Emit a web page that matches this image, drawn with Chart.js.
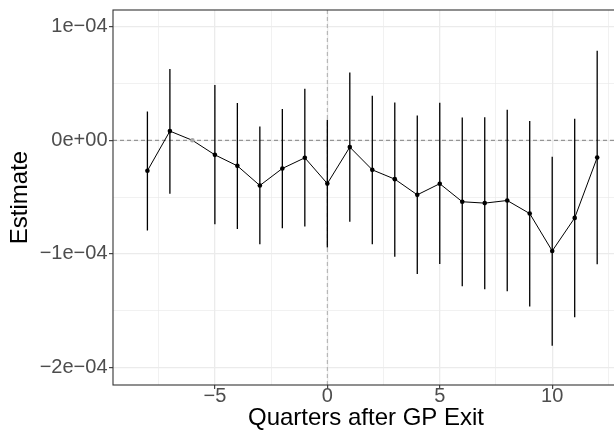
<!DOCTYPE html>
<html><head><meta charset="utf-8">
<script src="https://cdn.jsdelivr.net/npm/chart.js@4/dist/chart.umd.min.js"></script>
<style>
html,body{margin:0;padding:0;overflow:hidden;background:#fff;width:614px;height:436px}
#wrap{position:absolute;left:0;top:0;width:626px;height:436px}
canvas{display:block}
</style></head><body>
<div id="wrap"><canvas id="c" width="626" height="436"></canvas></div>
<script>
// ---- data ----
const quarters = [-8,-7,-6,-5,-4,-3,-2,-1,0,1,2,3,4,5,6,7,8,9,10,11,12];
const estimates = [-2.68e-5, 0.81e-5, 0, -1.28e-5, -2.25e-5, -3.98e-5, -2.48e-5, -1.54e-5, -3.81e-5, -0.60e-5,
                   -2.60e-5, -3.42e-5, -4.80e-5, -3.82e-5, -5.41e-5, -5.53e-5, -5.30e-5, -6.45e-5, -9.74e-5, -6.83e-5, -1.52e-5];
const ciLower = [-7.93e-5, -4.71e-5, null, -7.38e-5, -7.80e-5, -9.15e-5, -7.74e-5, -7.59e-5, -9.44e-5, -7.18e-5,
                 -9.15e-5, -10.24e-5, -11.76e-5, -10.88e-5, -12.85e-5, -13.11e-5, -13.29e-5, -14.64e-5, -18.08e-5, -15.58e-5, -10.91e-5];
const ciUpper = [2.53e-5, 6.28e-5, null, 4.86e-5, 3.28e-5, 1.22e-5, 2.75e-5, 4.54e-5, 1.81e-5, 5.97e-5,
                 3.92e-5, 3.33e-5, 2.18e-5, 3.30e-5, 2.00e-5, 2.04e-5, 2.68e-5, 1.69e-5, -1.45e-5, 1.89e-5, 7.89e-5];
const referenceQuarter = -6;
const xTickValues = [-5, 0, 5, 10];
const xTickLabels = ['\u22125', '0', '5', '10'];
const xMinorValues = [-7.5, -2.5, 2.5, 7.5, 12.5];
const yTickValues = [1e-4, 0, -1e-4, -2e-4];
const yTickLabels = ['1e\u221204', '0e+00', '\u22121e\u221204', '\u22122e\u221204'];
const yMinorValues = [0.5e-4, -0.5e-4, -1.5e-4];
const xLimits = [-9.53, 12.97];
const yLimits = [-2.154e-4, 1.147e-4];
const xTitle = 'Quarters after GP Exit';
const yTitle = 'Estimate';

// ---- build datasets ----
const pointData = quarters.map((q, i) => ({x: q, y: estimates[i]}));
const barData = [];
quarters.forEach((q, i) => {
  if (ciLower[i] === null) return;
  barData.push({x: q, y: ciLower[i]}, {x: q, y: ciUpper[i]}, {x: q, y: null});
});
const hLine = [{x: xLimits[0], y: 0}, {x: xLimits[1], y: 0}];
const vLine = [{x: 0, y: yLimits[0]}, {x: 0, y: yLimits[1]}];

const FONT = "'Liberation Sans', Arial, sans-serif";

const borderPlugin = {
  id: 'panelBorder',
  afterDatasetsDraw(chart) {
    const {ctx, chartArea: a} = chart;
    ctx.save();
    ctx.strokeStyle = '#333333';
    ctx.lineWidth = 1.1;
    ctx.strokeRect(a.left, a.top, a.right - a.left, a.bottom - a.top);
    ctx.restore();
  }
};

function gridOpts(majors) {
  return {
    color: '#EBEBEB',
    lineWidth: ctx => (ctx.tick && majors.includes(ctx.tick.value)) ? 1.3 : 0.7,
    tickColor: ctx => (ctx.tick && majors.includes(ctx.tick.value)) ? '#333333' : 'rgba(0,0,0,0)',
    tickLength: 4,
    tickWidth: 1.1,
    drawTicks: true
  };
}

new Chart(document.getElementById('c'), {
  type: 'line',
  data: {
    datasets: [
      {data: pointData, borderColor: '#000', borderWidth: 1, pointRadius: 2.3, pointBorderWidth: 0,
       pointBackgroundColor: pointData.map(p => p.x === referenceQuarter ? '#A6A6A6' : '#000'), fill: false, tension: 0},
      {data: barData, borderColor: '#000', borderWidth: 1.3, pointRadius: 0, spanGaps: false, fill: false},
      {data: hLine, borderColor: '#808080', borderWidth: 1, borderDash: [4, 3], pointRadius: 0, fill: false},
      {data: vLine, borderColor: '#ABABAB', borderWidth: 1, borderDash: [4, 3], pointRadius: 0, fill: false}
    ]
  },
  options: {
    responsive: false,
    animation: false,
    devicePixelRatio: 1,
    layout: {padding: {top: 10, right: 7, left: 0, bottom: 0}},
    plugins: {legend: {display: false}, tooltip: {enabled: false}, title: {display: false}},
    scales: {
      x: {
        type: 'linear', position: 'bottom', min: xLimits[0], max: xLimits[1],
        afterBuildTicks: s => { s.ticks = xTickValues.concat(xMinorValues).sort((a,b)=>a-b).map(v => ({value: v})); },
        afterFit: s => { s.height = 51; s.paddingLeft = 0; s.paddingRight = 0; },
        grid: gridOpts(xTickValues),
        border: {display: false},
        ticks: {
          autoSkip: false, maxRotation: 0, padding: -5, color: '#4D4D4D',
          font: {family: FONT, size: 20},
          callback: v => { const k = xTickValues.indexOf(v); return k >= 0 ? xTickLabels[k] : ''; }
        },
        title: {display: true, text: xTitle, color: '#000', font: {family: FONT, size: 24}, padding: {top: 0, bottom: 3}}
      },
      y: {
        type: 'linear', min: yLimits[0], max: yLimits[1],
        afterBuildTicks: s => { s.ticks = yTickValues.concat(yMinorValues).sort((a,b)=>b-a).map(v => ({value: v})); },
        afterFit: s => { s.width = 113; s.paddingTop = 0; s.paddingBottom = 0; },
        grid: gridOpts(yTickValues),
        border: {display: false},
        ticks: {
          autoSkip: false, padding: 1.5, color: '#4D4D4D',
          font: {family: FONT, size: 20},
          callback: v => { const k = yTickValues.indexOf(v); return k >= 0 ? yTickLabels[k] : ''; }
        },
        title: {display: true, text: yTitle, color: '#000', font: {family: FONT, size: 24}, padding: {top: 5.5, bottom: 0}}
      }
    }
  },
  plugins: [borderPlugin]
});
</script>
</body></html>
